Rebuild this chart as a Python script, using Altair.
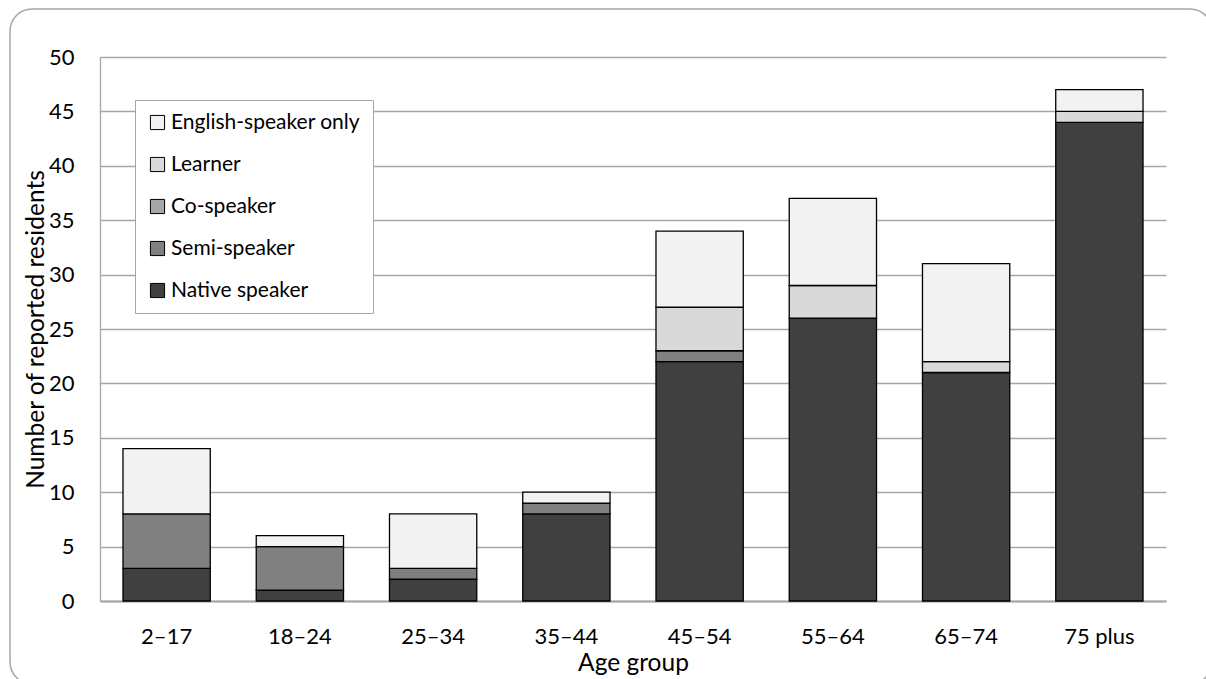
import altair as alt
import pandas as pd

# Age groups and number of reported residents per speaker category
age_groups = ["2–17", "18–24", "25–34", "35–44", "45–54", "55–64", "65–74", "75 plus"]
native_speaker = [3, 1, 2, 8, 22, 26, 21, 44]
semi_speaker = [5, 4, 1, 1, 1, 0, 0, 0]
co_speaker = [0, 0, 0, 0, 0, 0, 0, 0]
learner = [0, 0, 0, 0, 4, 3, 1, 1]
english_only = [6, 1, 5, 1, 7, 8, 9, 2]

categories = ["English-speaker only", "Learner", "Co-speaker", "Semi-speaker", "Native speaker"]
shades = ["#f2f2f2", "#d9d9d9", "#a6a6a6", "#808080", "#404040"]

series = {
    "Native speaker": native_speaker,
    "Semi-speaker": semi_speaker,
    "Co-speaker": co_speaker,
    "Learner": learner,
    "English-speaker only": english_only,
}

rows = []
for rank, (cat, values) in enumerate(series.items()):
    for grp, v in zip(age_groups, values):
        if v > 0:
            rows.append({"group": grp, "category": cat, "count": v, "rank": rank})
df = pd.DataFrame(rows)

FONT = "Lato"
W, H = 1066, 544
LEFT, TOP = 100, 57

bars = alt.Chart(df).mark_bar(stroke="black", strokeWidth=1.3).encode(
    x=alt.X(
        "group:N",
        sort=age_groups,
        title="Age group",
        scale=alt.Scale(paddingInner=0.345, paddingOuter=0.1725),
        axis=alt.Axis(
            labelAngle=0, ticks=False, labelPadding=25, titlePadding=4,
            domainColor="#a6a6a6", domainWidth=2, grid=False,
        ),
    ),
    y=alt.Y(
        "count:Q",
        stack="zero",
        title="Number of reported residents",
        scale=alt.Scale(domain=[0, 50]),
        axis=alt.Axis(
            values=list(range(0, 51, 5)), ticks=False, labelPadding=26,
            titlePadding=0, domainColor="#a6a6a6", domainWidth=1.3,
            gridColor="#a6a6a6", gridWidth=1.3,
        ),
    ),
    color=alt.Color(
        "category:N",
        scale=alt.Scale(domain=categories, range=shades),
        legend=alt.Legend(
            title=None, orient="none", legendX=35, legendY=43,
            symbolType="square", symbolSize=200, symbolStrokeColor="black",
            symbolStrokeWidth=1, symbolOpacity=1, rowPadding=20,
            labelFontSize=21, labelFont=FONT, labelColor="black",
            padding=12, strokeColor="#a6a6a6", fillColor="white",
            labelOffset=3, labelLimit=400,
        ),
    ),
    order=alt.Order("rank:Q", sort="ascending"),
)

frame = alt.Chart(pd.DataFrame({"k": [0]})).mark_rect(
    filled=False, stroke="#a6a6a6", strokeWidth=1.5, cornerRadius=22
).encode(
    x=alt.value(10 - LEFT), x2=alt.value(1212 - LEFT),
    y=alt.value(9 - TOP), y2=alt.value(684 - TOP),
)

chart = alt.layer(frame, bars).properties(
    width=W, height=H,
    autosize=alt.AutoSizeParams(type="none"),
    padding={"left": LEFT, "top": TOP, "right": 1206 - LEFT - W, "bottom": 679 - TOP - H},
    background="white",
).configure_view(stroke=None).configure_axis(
    labelFont=FONT, titleFont=FONT, labelFontSize=22, titleFontSize=24.5,
    labelColor="black", titleColor="black", titleFontWeight="normal",
)

chart.save("out.html", embed_options={"renderer": "svg", "actions": False})
